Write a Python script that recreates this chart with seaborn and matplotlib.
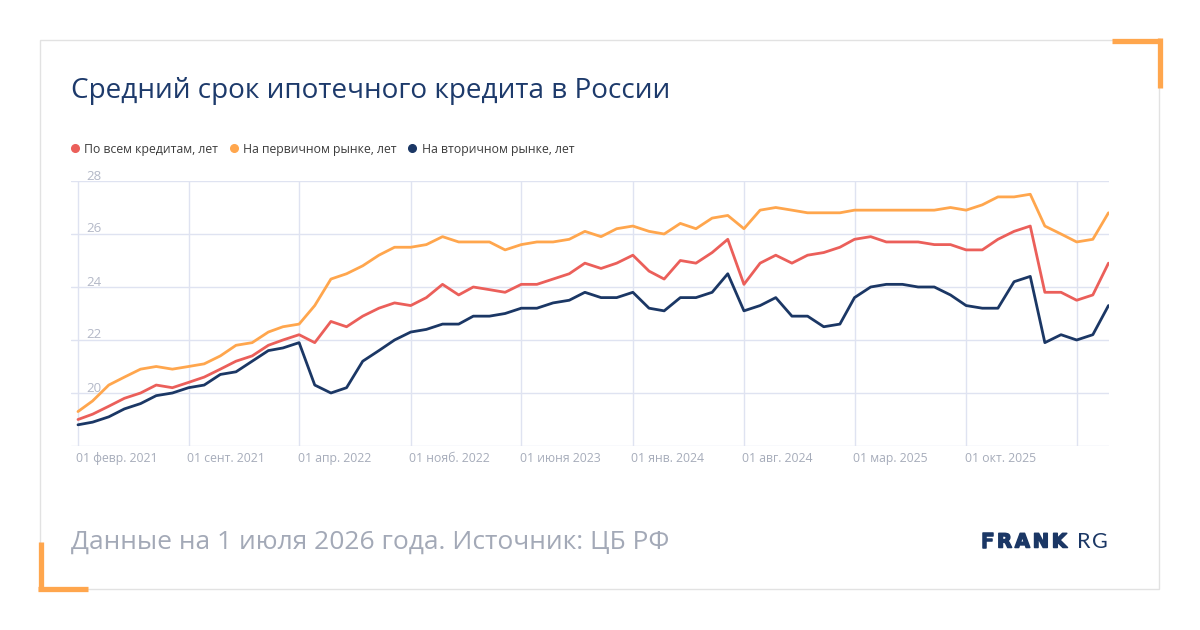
import numpy as np
import pandas as pd
import matplotlib
matplotlib.use("Agg")
import matplotlib.pyplot as plt
from matplotlib.lines import Line2D
from matplotlib.patches import Rectangle
import matplotlib.transforms as mtransforms
import matplotlib.patheffects as pe
import seaborn as sns

# ---------------- data ----------------
start_month = "2021-02-01"
n_months = 66

all_loans = [19.0, 19.2, 19.5, 19.8, 20.0, 20.3, 20.2, 20.4, 20.6, 20.9, 21.2, 21.4, 21.8, 22.0, 22.2, 21.9, 22.7, 22.5, 22.9, 23.2, 23.4,
             23.3, 23.6, 24.1, 23.7, 24.0, 23.9, 23.8, 24.1, 24.1, 24.3, 24.5, 24.9, 24.7, 24.9, 25.2, 24.6, 24.3, 25.0, 24.9, 25.3, 25.8, 24.1,
             24.9, 25.2, 24.9, 25.2, 25.3, 25.5, 25.8, 25.9, 25.7, 25.7, 25.7, 25.6, 25.6, 25.4, 25.4, 25.8, 26.1, 26.3, 23.8, 23.8, 23.5, 23.7, 24.9]
primary = [19.3, 19.7, 20.3, 20.6, 20.9, 21.0, 20.9, 21.0, 21.1, 21.4, 21.8, 21.9, 22.3, 22.5, 22.6, 23.3, 24.3, 24.5, 24.8, 25.2, 25.5,
           25.5, 25.6, 25.9, 25.7, 25.7, 25.7, 25.4, 25.6, 25.7, 25.7, 25.8, 26.1, 25.9, 26.2, 26.3, 26.1, 26.0, 26.4, 26.2, 26.6, 26.7, 26.2,
           26.9, 27.0, 26.9, 26.8, 26.8, 26.8, 26.9, 26.9, 26.9, 26.9, 26.9, 26.9, 27.0, 26.9, 27.1, 27.4, 27.4, 27.5, 26.3, 26.0, 25.7, 25.8, 26.8]
secondary = [18.8, 18.9, 19.1, 19.4, 19.6, 19.9, 20.0, 20.2, 20.3, 20.7, 20.8, 21.2, 21.6, 21.7, 21.9, 20.3, 20.0, 20.2, 21.2, 21.6, 22.0,
             22.3, 22.4, 22.6, 22.6, 22.9, 22.9, 23.0, 23.2, 23.2, 23.4, 23.5, 23.8, 23.6, 23.6, 23.8, 23.2, 23.1, 23.6, 23.6, 23.8, 24.5, 23.1,
             23.3, 23.6, 22.9, 22.9, 22.5, 22.6, 23.6, 24.0, 24.1, 24.1, 24.0, 24.0, 23.7, 23.3, 23.2, 23.2, 24.2, 24.4, 21.9, 22.2, 22.0, 22.2, 23.3]

series_names = ["По всем кредитам, лет", "На первичном рынке, лет", "На вторичном рынке, лет"]
series_colors = ["#eb5f5a", "#ffa64d", "#1b3765"]

x_tick_labels = ["01 февр. 2021", "01 сент. 2021", "01 апр. 2022", "01 нояб. 2022", "01 июня 2023",
                 "01 янв. 2024", "01 авг. 2024", "01 мар. 2025", "01 окт. 2025", ""]
y_ticks = [18, 20, 22, 24, 26, 28]
y_tick_labels = ["", "20", "22", "24", "26", "28"]

title_text = "Средний срок ипотечного кредита в России"
footer_text = "Данные на 1 июля 2026 года. Источник: ЦБ РФ"
logo_bold = "FRANK"
logo_light = "RG"

# ---------------- frame ----------------
dates = pd.date_range(start_month, periods=n_months, freq="MS")
df = pd.DataFrame({
    "date": np.tile(dates, 3),
    "value": all_loans + primary + secondary,
    "series": np.repeat(series_names, n_months),
})

sns.set_theme(style="white")
plt.rcParams["font.family"] = ["Open Sans", "DejaVu Sans"]

W, H = 1200, 630
fig = plt.figure(figsize=(W / 100, H / 100), dpi=100)
fig.patch.set_facecolor("white")


def fx(x):
    return x / W


def fy(y):
    return 1 - y / H


# axes placement
ax_l, ax_r, ax_t, ax_b = 71, 1109, 181, 446
ax = fig.add_axes([fx(ax_l), fy(ax_b), fx(ax_r - ax_l), (ax_b - ax_t) / H])
ax.set_facecolor("white")

sns.lineplot(data=df, x="date", y="value", hue="series", hue_order=series_names,
             palette=series_colors, linewidth=2.0, legend=False, ax=ax, zorder=3)

ax.set_ylim(18, 28)
ax.set_xlim(dates[0] - pd.Timedelta(days=13.4), dates[-1] + pd.Timedelta(days=1))

grid_c = "#dfe3f1"
ax.set_yticks(y_ticks)
ax.set_yticklabels([])
ax.tick_params(axis="y", length=0)
ax.set_xticks(dates[::7])
ax.set_xticklabels(x_tick_labels, ha="left", fontsize=8.8, color="#a6acba")
ax.tick_params(axis="x", length=1, color=grid_c, pad=3)
for lbl in ax.get_xticklabels():
    lbl.set_transform(lbl.get_transform() + mtransforms.ScaledTranslation(-1.5 / 100, 0, fig.dpi_scale_trans))
ax.grid(True, color=grid_c, linewidth=1.0, zorder=0)
for s in ax.spines.values():
    s.set_visible(False)
ax.set_xlabel("")
ax.set_ylabel("")

# y labels placed above the gridlines, inside plot
offset = mtransforms.ScaledTranslation(15 / 100, 5 / 100, fig.dpi_scale_trans)
trans = mtransforms.blended_transform_factory(ax.transAxes, ax.transData) + offset
for v, lab in zip(y_ticks, y_tick_labels):
    if lab:
        ax.text(0, v, lab, transform=trans, ha="left", va="center", fontsize=9.5, color="#b3b8c7")

# ---------------- decorations ----------------
frame = Rectangle((fx(40), fy(589)), fx(1119), (589 - 40) / H, transform=fig.transFigure,
                  fill=False, edgecolor="#e2e2e2", linewidth=1.0)
fig.patches.append(frame)

orange = "#ffa64d"
lw_c = 3.8
fig.lines.append(Line2D([fx(1112), fx(1159.5)], [fy(40.5), fy(40.5)], transform=fig.transFigure, color=orange, lw=lw_c, solid_capstyle="butt"))
fig.lines.append(Line2D([fx(1159.5), fx(1159.5)], [fy(38), fy(88)], transform=fig.transFigure, color=orange, lw=lw_c, solid_capstyle="butt"))
fig.lines.append(Line2D([fx(40.5), fx(40.5)], [fy(542), fy(591)], transform=fig.transFigure, color=orange, lw=lw_c, solid_capstyle="butt"))
fig.lines.append(Line2D([fx(38), fx(88)], [fy(588.5), fy(588.5)], transform=fig.transFigure, color=orange, lw=lw_c, solid_capstyle="butt"))

fig.text(fx(71), fy(91), title_text, ha="left", va="center", fontsize=20.1, color="#1d3a6b")
fig.text(fx(71), fy(542), footer_text, ha="left", va="center", fontsize=19.0, color="#a3a9b7")

# legend
handles = [Line2D([], [], marker="o", linestyle="", markersize=5.5, color=c) for c in series_colors]
fig.legend(handles, series_names, loc="center left", bbox_to_anchor=(fx(71), fy(149)), ncol=3,
           frameon=False, fontsize=8.8, handlelength=0.6, handletextpad=0.45, columnspacing=1.0,
           borderaxespad=0, borderpad=0, labelcolor="#3c3c3c")

# logo (letter-spaced)
renderer = fig.canvas.get_renderer()
logo_c = "#1b3765"


def spaced_text(s, x0, y0, spacing, **kw):
    x = x0
    for ch in s:
        t = fig.text(fx(x), fy(y0), ch, ha="left", va="center", **kw)
        bb = t.get_window_extent(renderer=renderer)
        x = x + bb.width + spacing
    return x


spaced_text(logo_bold, 981, 542, 2.8, fontsize=14.0, fontweight="bold",
            color=logo_c, family=["DejaVu Sans"],
            path_effects=[pe.withStroke(linewidth=1.1, foreground=logo_c)])
spaced_text(logo_light, 1077, 542, 1.5, fontsize=15.5, fontweight="normal",
            color=logo_c, family=["Lato", "DejaVu Sans"])

fig.savefig("out.png", dpi=100, facecolor="white")
